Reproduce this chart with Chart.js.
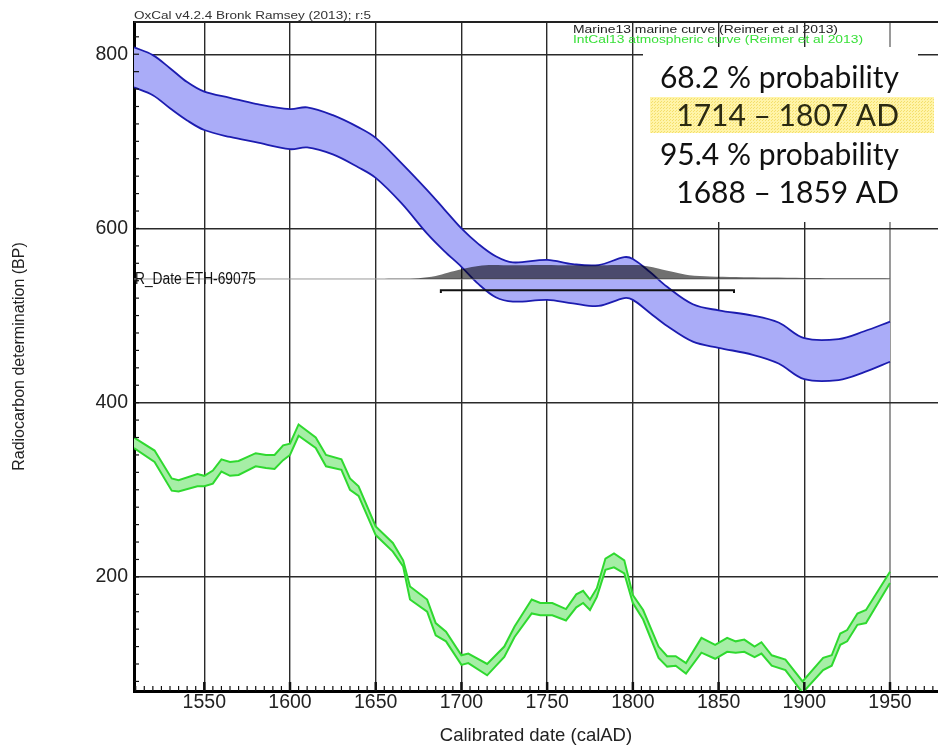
<!DOCTYPE html>
<html>
<head>
<meta charset="utf-8">
<script src="https://cdn.jsdelivr.net/npm/chart.js@4.4.1/dist/chart.umd.min.js"></script>
<style>
    html, body { margin: 0; padding: 0; background: #fff; }
    #wrap { width: 938px; height: 747px; }
</style>
</head>
<body>
<div id="wrap"><canvas id="oxcal" width="938" height="747"></canvas></div>
<script>
// Marine13 envelope (BP)
const marineYears = [1509, 1520, 1530, 1540, 1550, 1565, 1580, 1600, 1610, 1625, 1640, 1650, 1665, 1680, 1690, 1700, 1710, 1720, 1730, 1750, 1765, 1780, 1795, 1800, 1810, 1820, 1835, 1850, 1870, 1885, 1900, 1920, 1935, 1950];
const marineUpper = [808, 799, 784, 768, 757, 750, 743, 737, 739, 730, 716, 704, 675, 644, 622, 600, 582, 568, 561, 564, 559, 558, 567, 565, 550, 533, 513, 506, 500, 492, 474, 473, 482, 493];
const marineLower = [762, 753, 738, 724, 713, 705, 699, 691, 693, 685, 670, 658, 629, 594, 574, 556, 536, 521, 516, 518, 514, 511, 520, 518, 503, 488, 470, 463, 455, 445, 427, 426, 435, 447];

// IntCal13 envelope (BP)
const intcalYears = [1509, 1521, 1531, 1535, 1546, 1550, 1555, 1560, 1565, 1570, 1580, 1586, 1591, 1596, 1600, 1605, 1615, 1621, 1630, 1635, 1640, 1650, 1660, 1666, 1670, 1680, 1685, 1691, 1700, 1704, 1715, 1725, 1731, 1741, 1746, 1753, 1761, 1767, 1771, 1775, 1779, 1784, 1789, 1795, 1800, 1806, 1815, 1820, 1825, 1831, 1840, 1848, 1855, 1860, 1865, 1871, 1875, 1881, 1889, 1899, 1911, 1916, 1921, 1925, 1931, 1936, 1950];
const intcalUpper = [360, 345, 313, 311, 318, 316, 322, 335, 332, 333, 342, 340, 340, 351, 353, 375, 360, 340, 335, 313, 304, 258, 239, 219, 189, 174, 147, 137, 110, 112, 100, 120, 143, 174, 170, 170, 163, 180, 184, 174, 187, 221, 227, 219, 179, 162, 120, 109, 109, 101, 130, 122, 130, 126, 128, 120, 125, 110, 105, 80, 107, 110, 135, 139, 158, 162, 206];
const intcalLower = [348, 332, 299, 298, 304, 304, 307, 321, 316, 317, 327, 325, 324, 334, 340, 362, 348, 327, 323, 300, 293, 248, 229, 212, 174, 160, 133, 126, 99, 101, 87, 108, 131, 158, 156, 156, 150, 165, 170, 162, 177, 208, 211, 204, 170, 151, 107, 97, 98, 89, 113, 106, 114, 113, 114, 108, 112, 98, 93, 67, 93, 98, 122, 126, 145, 147, 193];

// R_Date ETH-69075: measured age and calibrated probability (relative)
const rDateLabel = 'R_Date ETH-69075';
const rDateBP = 542;
const rDateSpan = [1509, 1950];
const probYears = [1655, 1665, 1675, 1685, 1692, 1700, 1708, 1716, 1730, 1745, 1760, 1775, 1785, 1795, 1803, 1810, 1817, 1825, 1833, 1845, 1860, 1880, 1900, 1925, 1950];
const probDensity = [0, 0.01, 0.06, 0.22, 0.45, 0.7, 0.9, 1, 0.98, 1, 0.98, 0.97, 0.99, 1, 1, 0.88, 0.68, 0.46, 0.26, 0.18, 0.14, 0.1, 0.07, 0.05, 0.04];
const probHeightBP = 16;
const range68 = [1714, 1807];
const range95 = [1688, 1859];
const bracketBP = 529;

// axes
const xTickValues = [1550, 1600, 1650, 1700, 1750, 1800, 1850, 1900, 1950];
const yTickValues = [200, 400, 600, 800];
const xMinorStep = 5;
const yMinorStep = 20;

const SANS = '"Liberation Sans", Arial, sans-serif';

function toPoints(xs, ys) {
    return xs.map((v, i) => ({ x: v, y: ys[i] }));
}

// the OxCal export is a bit stretched sideways, so squeeze/stretch text to a width
function fillTextWide(ctx, text, x, y, width) {
    const w = ctx.measureText(text).width;
    ctx.save();
    ctx.translate(x, y);
    ctx.scale(width / w, 1);
    ctx.fillText(text, 0, 0);
    ctx.restore();
}

function dotPattern(ctx) {
    const c = document.createElement('canvas');
    c.width = 3; c.height = 3;
    const p = c.getContext('2d');
    p.fillStyle = '#fff4a8';
    p.fillRect(0, 0, 3, 3);
    p.fillStyle = '#f4df6c';
    p.fillRect(0, 0, 1, 1);
    p.fillRect(1, 2, 1, 1);
    return ctx.createPattern(c, 'repeat');
}

const oxcalDecor = {
    id: 'oxcalDecor',
    afterDatasetsDraw(chart) {
        const { ctx, chartArea: a, scales: { x, y } } = chart;
        ctx.save();
        ctx.strokeStyle = '#111';

        // minor ticks along bottom axis, pointing inwards
        for (let v = 1510; v <= x.max; v += xMinorStep) {
            const px = x.getPixelForValue(v);
            const major = v % 50 === 0;
            ctx.lineWidth = major ? 2.5 : 1.2;
            ctx.beginPath();
            ctx.moveTo(px, a.bottom);
            ctx.lineTo(px, a.bottom - (major ? 9 : 5));
            ctx.stroke();
        }
        // minor ticks along left axis
        ctx.lineWidth = 1.2;
        for (let v = 80; v <= y.max; v += yMinorStep) {
            const py = y.getPixelForValue(v);
            ctx.beginPath();
            ctx.moveTo(a.left, py);
            ctx.lineTo(a.left + 5, py);
            ctx.stroke();
        }

        // top frame line
        ctx.lineWidth = 2;
        ctx.strokeStyle = '#222';
        ctx.beginPath();
        ctx.moveTo(a.left, a.top);
        ctx.lineTo(a.right, a.top);
        ctx.stroke();

        // R_Date label sits on its own line
        ctx.fillStyle = '#111';
        ctx.font = '16px ' + SANS;
        ctx.textBaseline = 'middle';
        ctx.textAlign = 'left';
        fillTextWide(ctx, rDateLabel, a.left + 1, y.getPixelForValue(rDateBP) + 1, 121);
        ctx.restore();
    },
    afterDraw(chart) {
        const { ctx, chartArea: a } = chart;
        ctx.save();

        // program header
        ctx.fillStyle = '#333';
        ctx.font = '11.5px ' + SANS;
        ctx.textBaseline = 'middle';
        ctx.textAlign = 'left';
        fillTextWide(ctx, 'OxCal v4.2.4 Bronk Ramsey (2013); r:5', a.left, 16, 237);

        // curve legend
        ctx.font = '11px ' + SANS;
        ctx.fillStyle = '#222';
        fillTextWide(ctx, 'Marine13 marine curve (Reimer et al 2013)', 573, 30, 265);
        ctx.fillStyle = '#39e039';
        fillTextWide(ctx, 'IntCal13 atmospheric curve (Reimer et al 2013)', 573, 39.5, 290);

        // probability summary box
        ctx.fillStyle = '#fff';
        ctx.fillRect(643, 47, 275, 175);
        ctx.fillStyle = dotPattern(ctx);
        ctx.fillRect(650, 97, 284, 36);

        const lines = [
            '68.2 % probability',
            `${range68[0]} \u2013 ${range68[1]} AD`,
            '95.4 % probability',
            `${range95[0]} \u2013 ${range95[1]} AD`
        ];
        const rows = [78, 116, 155, 193];
        ctx.font = '30px Lato, "Open Sans", sans-serif';
        ctx.textAlign = 'right';
        lines.forEach((t, i) => {
            ctx.fillStyle = i === 1 ? '#2b2a12' : '#111';
            ctx.fillText(t, 899, rows[i]);
        });
        ctx.restore();
    }
};

const ctx = document.getElementById('oxcal').getContext('2d');

new Chart(ctx, {
    type: 'line',
    data: {
        datasets: [
            {
                label: 'Calibrated probability',
                data: probYears.map((v, i) => ({ x: v, y: rDateBP + probDensity[i] * probHeightBP })),
                borderColor: 'rgba(0,0,0,0)',
                borderWidth: 0,
                backgroundColor: 'rgba(0,0,0,0.56)',
                fill: { value: rDateBP },
                tension: 0.3,
                pointRadius: 0,
                order: 0
            },
            {
                label: '95.4% range',
                data: [
                    { x: range95[0], y: bracketBP - 3 },
                    { x: range95[0], y: bracketBP },
                    { x: range95[1], y: bracketBP },
                    { x: range95[1], y: bracketBP - 3 }
                ],
                borderColor: '#111',
                borderWidth: 2,
                fill: false,
                tension: 0,
                pointRadius: 0,
                order: 0
            },
            {
                label: 'R_Date line',
                data: rDateSpan.map(v => ({ x: v, y: rDateBP })),
                borderColor: '#9a9a9a',
                borderWidth: 1,
                fill: false,
                pointRadius: 0,
                order: 1
            },
            {
                label: 'Marine13 lower',
                data: toPoints(marineYears, marineLower),
                borderColor: '#1c1cb0',
                borderWidth: 1.8,
                fill: false,
                tension: 0.35,
                pointRadius: 0,
                order: 2
            },
            {
                label: 'Marine13 upper',
                data: toPoints(marineYears, marineUpper),
                borderColor: '#1c1cb0',
                borderWidth: 1.8,
                backgroundColor: '#aaacf8',
                fill: '-1',
                tension: 0.35,
                pointRadius: 0,
                order: 2
            },
            {
                label: 'IntCal13 lower',
                data: toPoints(intcalYears, intcalLower),
                borderColor: '#2fd92f',
                borderWidth: 2,
                fill: false,
                tension: 0,
                pointRadius: 0,
                order: 3
            },
            {
                label: 'IntCal13 upper',
                data: toPoints(intcalYears, intcalUpper),
                borderColor: '#2fd92f',
                borderWidth: 2,
                backgroundColor: '#a6eea6',
                fill: '-1',
                tension: 0,
                pointRadius: 0,
                order: 3
            }
        ]
    },
    options: {
        responsive: false,
        animation: false,
        devicePixelRatio: 1,
        layout: { padding: { top: 22, right: 0, left: 0, bottom: 0 } },
        plugins: {
            legend: { display: false },
            tooltip: { enabled: false }
        },
        scales: {
            x: {
                type: 'linear',
                min: 1509,
                max: 1978,
                afterBuildTicks: scale => { scale.ticks = xTickValues.map(v => ({ value: v })); },
                afterFit: scale => { scale.height = 56; },
                grid: {
                    drawTicks: false,
                    color: c => (c.tick && c.tick.value === 1950 ? '#9a9a9a' : '#2a2a2a'),
                    lineWidth: c => (c.tick && c.tick.value === 1950 ? 2 : 1.4)
                },
                border: { color: '#000', width: 3 },
                ticks: {
                    autoSkip: false,
                    maxRotation: 0,
                    padding: 0,
                    color: '#222',
                    font: { family: SANS, size: 19.5 },
                    callback: v => String(v)
                },
                title: {
                    display: true,
                    text: 'Calibrated date (calAD)',
                    color: '#222',
                    font: { family: SANS, size: 18.5 },
                    padding: { top: 0, bottom: 0 }
                }
            },
            y: {
                type: 'linear',
                min: 69,
                max: 837,
                afterBuildTicks: scale => { scale.ticks = yTickValues.map(v => ({ value: v })); },
                afterFit: scale => { scale.width = 134; },
                grid: { drawTicks: false, color: '#2a2a2a', lineWidth: 1.4 },
                border: { color: '#000', width: 3 },
                ticks: {
                    padding: 6,
                    color: '#222',
                    font: { family: SANS, size: 19.5 },
                    callback: v => String(v)
                },
                title: {
                    display: true,
                    text: 'Radiocarbon determination (BP)',
                    color: '#222',
                    font: { family: SANS, size: 16 },
                    padding: { top: 10, bottom: 0 }
                }
            }
        }
    },
    plugins: [oxcalDecor]
});
</script>
</body>
</html>
